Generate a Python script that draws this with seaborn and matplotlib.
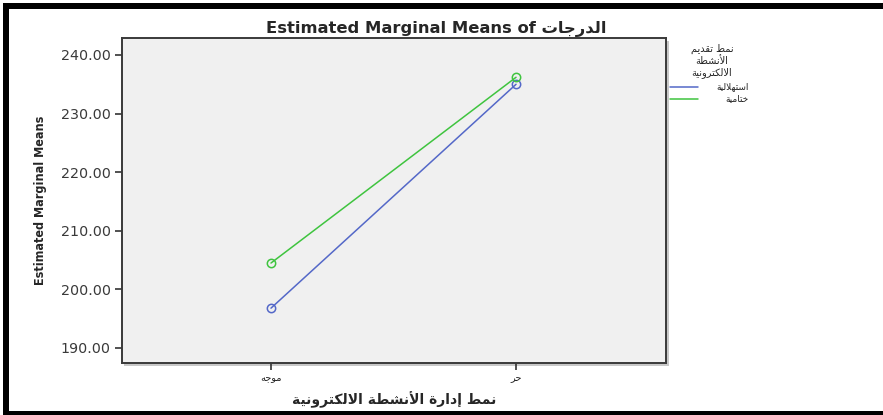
import matplotlib
matplotlib.use("Agg")
import matplotlib.pyplot as plt
from matplotlib.patches import Rectangle
from matplotlib.lines import Line2D
import seaborn as sns
import pandas as pd

# ---------------- data ----------------
mgmt_levels = ['موجه', 'حر']                 # x categories
pres_levels = ['استهلالية', 'ختامية']        # legend series
means_istihlal = [196.8, 235.0]
means_khitam = [204.5, 236.2]
y_ticks = [190, 200, 210, 220, 230, 240]
title_en = 'Estimated Marginal Means of '
title_ar = 'الدرجات'
xlabel_ar = 'نمط إدارة الأنشطة الالكترونية'
legend_title_lines = ['نمط تقديم', 'الأنشطة', 'الالكترونية']
ylabel = 'Estimated Marginal Means'

# ---------------- simple Arabic shaping ----------------
FORMS = {
    '\u0627': ('\uFE8D', '\uFE8E', None, None),
    '\u0623': ('\uFE83', '\uFE84', None, None),
    '\u0625': ('\uFE87', '\uFE88', None, None),
    '\u0629': ('\uFE93', '\uFE94', None, None),
    '\u062A': ('\uFE95', '\uFE96', '\uFE97', '\uFE98'),
    '\u062C': ('\uFE9D', '\uFE9E', '\uFE9F', '\uFEA0'),
    '\u062D': ('\uFEA1', '\uFEA2', '\uFEA3', '\uFEA4'),
    '\u062E': ('\uFEA5', '\uFEA6', '\uFEA7', '\uFEA8'),
    '\u062F': ('\uFEA9', '\uFEAA', None, None),
    '\u0631': ('\uFEAD', '\uFEAE', None, None),
    '\u0633': ('\uFEB1', '\uFEB2', '\uFEB3', '\uFEB4'),
    '\u0634': ('\uFEB5', '\uFEB6', '\uFEB7', '\uFEB8'),
    '\u0637': ('\uFEC1', '\uFEC2', '\uFEC3', '\uFEC4'),
    '\u0642': ('\uFED5', '\uFED6', '\uFED7', '\uFED8'),
    '\u0643': ('\uFED9', '\uFEDA', '\uFEDB', '\uFEDC'),
    '\u0644': ('\uFEDD', '\uFEDE', '\uFEDF', '\uFEE0'),
    '\u0645': ('\uFEE1', '\uFEE2', '\uFEE3', '\uFEE4'),
    '\u0646': ('\uFEE5', '\uFEE6', '\uFEE7', '\uFEE8'),
    '\u0647': ('\uFEE9', '\uFEEA', '\uFEEB', '\uFEEC'),
    '\u0648': ('\uFEED', '\uFEEE', None, None),
    '\u064A': ('\uFEF1', '\uFEF2', '\uFEF3', '\uFEF4'),
}
LAM_ALEF = {'\u0627': ('\uFEFB', '\uFEFC'),
            '\u0623': ('\uFEF7', '\uFEF8'),
            '\u0625': ('\uFEF9', '\uFEFA')}


def ar(text):
    out = []
    i, n = 0, len(text)

    def joins_fwd(c):
        return c in FORMS and FORMS[c][2] is not None

    while i < n:
        c = text[i]
        if c not in FORMS:
            out.append(c)
            i += 1
            continue
        prev = text[i - 1] if i > 0 else ''
        cp = joins_fwd(prev)
        if c == '\u0644' and i + 1 < n and text[i + 1] in LAM_ALEF:
            out.append(LAM_ALEF[text[i + 1]][1 if cp else 0])
            i += 2
            continue
        nxt = text[i + 1] if i + 1 < n else ''
        cn = FORMS[c][2] is not None and nxt in FORMS
        iso, fin, ini, med = FORMS[c]
        out.append(med if (cp and cn) else fin if cp else ini if cn else iso)
        i += 1
    return ''.join(out)[::-1]


# ---------------- figure ----------------
sns.set_theme(style="white")
FAM = ['Liberation Sans', 'DejaVu Sans']
plt.rcParams['font.family'] = FAM

W, H = 883, 415
fig = plt.figure(figsize=(W / 100, H / 100), dpi=100)
fig.patch.set_facecolor('white')

L, R, T, B = 122, 666, 38, 363
ax = fig.add_axes([L / W, 1 - B / H, (R - L) / W, (B - T) / H])
ax.set_facecolor('#f0f0f0')
ax.set_zorder(2)

# subtle shadow behind the plot frame
fig.patches.append(Rectangle(((L + 2) / W, 1 - (B + 3) / H), (R - L + 1) / W, (B - T) / H,
                             transform=fig.transFigure, facecolor='#c8c8c8',
                             edgecolor='none', zorder=1))

df = pd.DataFrame({
    'mgmt': mgmt_levels * 2,
    'pres': [pres_levels[0]] * 2 + [pres_levels[1]] * 2,
    'mean': means_istihlal + means_khitam,
})
colors = {pres_levels[0]: '#5468c8', pres_levels[1]: '#3fc43f'}

sns.pointplot(data=df, x='mgmt', y='mean', hue='pres', order=mgmt_levels,
              hue_order=pres_levels, palette=colors, errorbar=None,
              markers='o', linestyles='-', markersize=6, linewidth=1.1,
              markerfacecolor='none', markeredgewidth=1.1, ax=ax, legend=False)

ax.set_xlim(-0.608, 1.612)
ax.set_ylim(187.44, 242.9)
ax.set_yticks(y_ticks)
ax.set_yticklabels([f'{v:.2f}' for v in y_ticks], fontsize=10.3,
                   color='#3a3a3a', family=['DejaVu Sans'])
ax.set_xticks(range(len(mgmt_levels)))
ax.set_xticklabels([ar(t) for t in mgmt_levels], fontsize=7, family=['DejaVu Sans'],
                   color='#222222')
ax.tick_params(axis='both', direction='out', length=5, width=1.2, color='#333333',
               left=True, bottom=True)
ax.tick_params(axis='y', pad=3)
ax.tick_params(axis='x', pad=2)

for s in ax.spines.values():
    s.set_color('#3a3a3a')
    s.set_linewidth(1.4)

ax.set_xlabel(ar(xlabel_ar), fontsize=10, fontweight='bold', family=['DejaVu Sans'],
              labelpad=6)
ax.set_ylabel(ylabel, fontsize=9, fontweight='bold', fontstretch='condensed',
              family=['DejaVu Sans'], labelpad=10)

fig.text(436 / W, 1 - 29 / H, title_en + ar(title_ar), ha='center', va='center',
         fontsize=11.8, fontweight='bold', family=['DejaVu Sans'])

# legend (drawn manually to mirror the SPSS layout)
for k, line in enumerate(legend_title_lines):
    fig.text(712 / W, 1 - (49 + 12 * k) / H, ar(line), ha='center', va='center',
             fontsize=7, family=['DejaVu Sans'], color='#222222')
for k, p in enumerate(pres_levels):
    yy = 1 - (87 + 12 * k) / H
    fig.lines.append(Line2D([670 / W, 698 / W], [yy, yy], transform=fig.transFigure,
                            color=colors[p], linewidth=1.1))
    fig.text(749 / W, yy, ar(p), ha='right', va='center', fontsize=6.5,
             family=['DejaVu Sans'], color='#222222')

# black outer frame
for (x0, y0, x1, y1) in [(3, 3, W, 9), (3, 3, 9, H), (3, 411, W, H)]:
    fig.patches.append(Rectangle((x0 / W, 1 - y1 / H), (x1 - x0) / W, (y1 - y0) / H,
                                 transform=fig.transFigure, facecolor='black',
                                 edgecolor='none', zorder=5))

fig.savefig('out.png', dpi=100)
